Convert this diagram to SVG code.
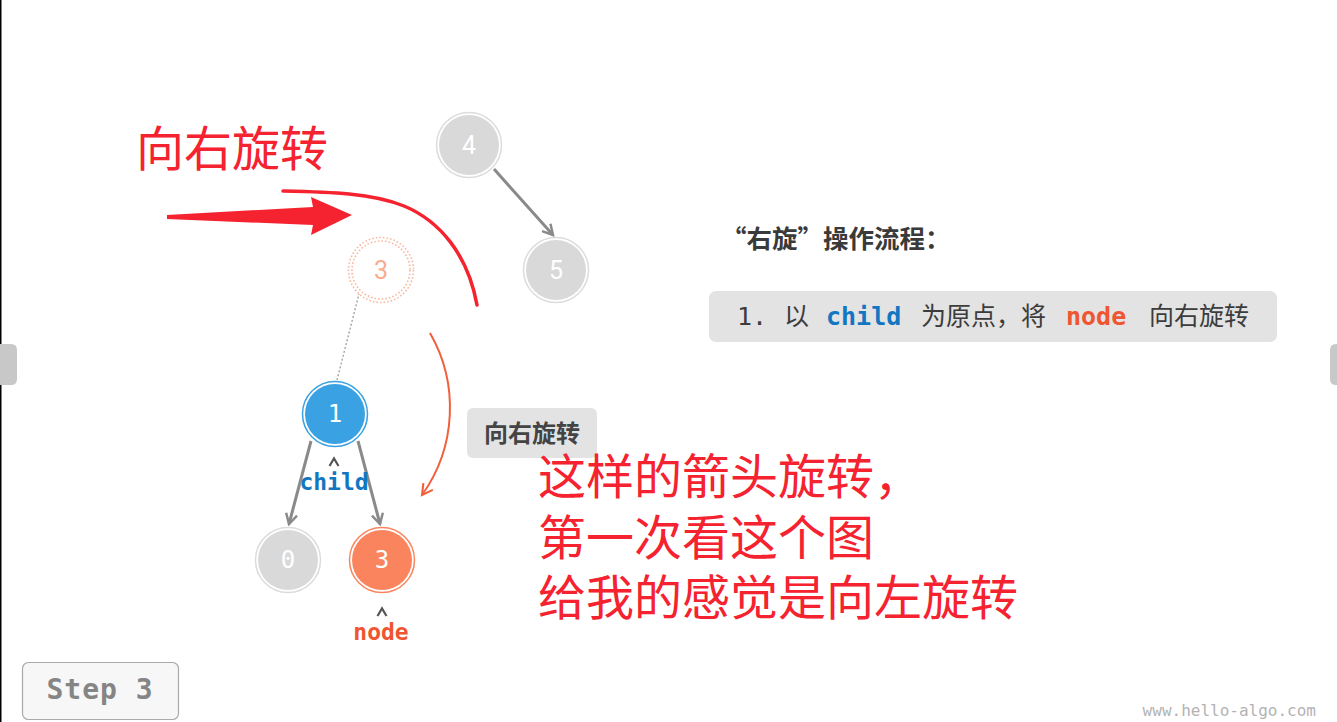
<svg xmlns="http://www.w3.org/2000/svg" width="1337" height="722" viewBox="0 0 1337 722">
  <style>
    .mono { font-family: "DejaVu Sans Mono", "Liberation Mono", monospace; }
    .cjk { font-family: "Noto Sans CJK SC", "Noto Sans", sans-serif; }
    .num { font-family: "Roboto", "DejaVu Sans", sans-serif; font-size: 25px; text-anchor: middle; }
    .nnum { font-family: "DejaVu Sans Mono", monospace; font-size: 24px; text-anchor: middle; fill: #ffffff; }
    .edge { stroke: #8a8a8a; stroke-width: 3; fill: none; marker-end: url(#gArrow); }
    .red { fill: #f5222f; }
    .caret { stroke: #555555; stroke-width: 2.2; fill: none; stroke-linejoin: miter; }
  </style>
  <defs>
    <marker id="gArrow" viewBox="0 0 12 12" refX="10" refY="6" markerWidth="4.5" markerHeight="4.5" orient="auto" markerUnits="strokeWidth">
      <path d="M1,1 L10,6 L1,11" fill="none" stroke="#8a8a8a" stroke-width="2.2" stroke-linejoin="miter"/>
    </marker>
    <marker id="oArrow" viewBox="0 0 12 12" refX="10" refY="6" markerWidth="7" markerHeight="7" orient="auto" markerUnits="strokeWidth">
      <path d="M1,1 L10,6 L1,11" fill="none" stroke="#f0603a" stroke-width="1.8"/>
    </marker>
  </defs>

  <rect x="0" y="0" width="1337" height="722" fill="#ffffff"/>
  <rect x="0" y="0" width="1.5" height="722" fill="#000000"/>
  <path d="M0,344 L11,344 Q17,344 17,350 L17,379 Q17,385 11,385 L0,385 Z" fill="#c8c8c8"/>
  <path d="M1337,344 L1336,344 Q1330,344 1330,350 L1330,379 Q1330,385 1336,385 L1337,385 Z" fill="#c8c8c8"/>

  <!-- connectors -->
  <g id="connectors">
    <line x1="337" y1="380" x2="359" y2="294" stroke="#aaaaaa" stroke-width="1.5" stroke-dasharray="2 2"/>
    <line class="edge" x1="494" y1="169" x2="553" y2="235"/>
    <line class="edge" x1="311" y1="441" x2="289" y2="524"/>
    <line class="edge" x1="358" y1="441" x2="380" y2="524"/>
    <path d="M430,333 A150,150 0 0 1 422,495" fill="none" stroke="#f0603a" stroke-width="2" marker-end="url(#oArrow)"/>
  </g>

  <!-- nodes -->
  <g id="node4">
    <circle cx="469" cy="145" r="32.5" fill="none" stroke="#dcdcdc" stroke-width="1.5"/>
    <circle cx="469" cy="145" r="30" fill="#d9d9d9"/>
    <text class="num" x="469" y="154" fill="#ffffff">4</text>
  </g>
  <g id="node5">
    <circle cx="556" cy="270" r="32.5" fill="none" stroke="#dcdcdc" stroke-width="1.5"/>
    <circle cx="556" cy="270" r="30" fill="#d9d9d9"/>
    <text class="num" x="556" y="279" fill="#ffffff">5</text>
  </g>
  <g id="node3-old">
    <circle cx="381" cy="270" r="32.5" fill="none" stroke="#f9b8a0" stroke-width="1.6" stroke-dasharray="1.6 2"/>
    <circle cx="381" cy="270" r="29" fill="none" stroke="#f9b8a0" stroke-width="1.6" stroke-dasharray="1.6 2"/>
    <text class="num" x="381" y="279" fill="#fbab8d">3</text>
  </g>
  <g id="node1">
    <circle cx="335" cy="414" r="32.5" fill="none" stroke="#3aa1e2" stroke-width="1.5"/>
    <circle cx="335" cy="414" r="30" fill="#3aa1e2"/>
    <text class="nnum" x="335" y="422">1</text>
  </g>
  <g id="node0">
    <circle cx="288" cy="560" r="32.5" fill="none" stroke="#dcdcdc" stroke-width="1.5"/>
    <circle cx="288" cy="560" r="30" fill="#d9d9d9"/>
    <text class="nnum" x="288" y="568">0</text>
  </g>
  <g id="node3">
    <circle cx="382" cy="560" r="32.5" fill="none" stroke="#f9845e" stroke-width="1.5"/>
    <circle cx="382" cy="560" r="30" fill="#f9845e"/>
    <text class="nnum" x="382" y="568">3</text>
  </g>

  <!-- pointer labels -->
  <g id="label-child">
    <path class="caret" d="M329.5,466 L334,458.5 L338.5,466"/>
    <text class="mono" x="334" y="490" font-size="23" font-weight="bold" fill="#1276c1" text-anchor="middle">child</text>
  </g>
  <g id="label-node">
    <path class="caret" d="M377.5,616 L382,608.5 L386.5,616"/>
    <text class="mono" x="381" y="640" font-size="23" font-weight="bold" fill="#ef5530" text-anchor="middle">node</text>
  </g>

  <g id="rotate-label">
    <rect x="467" y="408" width="130" height="50" rx="6" fill="#e3e3e3"/>
    <text class="cjk" x="532" y="442" font-size="24" font-weight="bold" fill="#444444" text-anchor="middle">向右旋转</text>
  </g>

  <!-- right side description -->
  <g id="desc">
    <text class="cjk" x="721" y="248" font-size="25.5" font-weight="bold" fill="#3a3a3a">“右旋”操作流程：</text>
    <rect x="709" y="291" width="568" height="51" rx="7" fill="#e3e3e3"/>
    <text y="325" font-size="25" fill="#3c3c3c">
      <tspan class="mono" x="737">1.</tspan>
      <tspan class="cjk" x="784">以</tspan>
      <tspan class="mono" x="826" font-weight="bold" fill="#1276c1">child</tspan>
      <tspan class="cjk" x="921">为原点，将</tspan>
      <tspan class="mono" x="1066" font-weight="bold" fill="#ef5530">node</tspan>
      <tspan class="cjk" x="1149">向右旋转</tspan>
    </text>
  </g>

  <!-- step button -->
  <g id="step">
    <rect x="22.5" y="662.5" width="156" height="57" rx="6" fill="#f7f7f7" stroke="#aaaaaa" stroke-width="1.2"/>
    <text class="mono" x="100" y="699" font-size="28" font-weight="bold" fill="#858585" text-anchor="middle" letter-spacing="1">Step 3</text>
  </g>
  <text class="mono" x="1316" y="716" font-size="16" fill="#b3b3b3" text-anchor="end">www.hello-algo.com</text>

  <!-- red annotations -->
  <g id="annotation">
    <text class="cjk red" x="136" y="166" font-size="48">向右旋转</text>
    <path d="M167,215 L313,207 L311,197 L352,215 L311,235 L313,225 L167,219 Z" fill="#f5222f"/>
    <path d="M283,191 C330,192 372,193 404,206 C440,221 468,255 477,305" fill="none" stroke="#f5222f" stroke-width="3.5" stroke-linecap="round"/>
    <text class="cjk red" font-size="48">
      <tspan x="538" y="494">这样的箭头旋转，</tspan>
      <tspan x="538" y="555">第一次看这个图</tspan>
      <tspan x="538" y="615">给我的感觉是向左旋转</tspan>
    </text>
  </g>
</svg>
